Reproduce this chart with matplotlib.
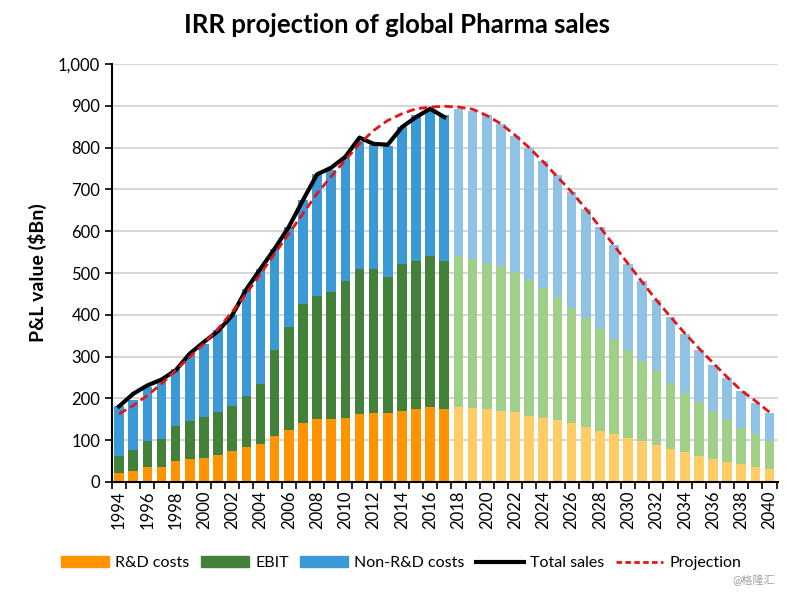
import numpy as np
import matplotlib
matplotlib.use('Agg')
import matplotlib.pyplot as plt
from matplotlib.patches import Patch
from matplotlib.lines import Line2D

plt.rcParams['font.family'] = ['Lato', 'Noto Sans CJK SC', 'DejaVu Sans']

years = list(range(1994, 2041))
last_actual = 2017

# bar totals ($Bn)
bar_total = [181, 195, 227, 243, 271, 303, 331, 363, 399, 461,
             510, 558, 610, 675, 736, 746, 774, 817, 807, 805,
             849, 877, 893, 877, 893, 888, 877, 857, 829, 800,
             768, 734, 694, 652, 610, 566, 522, 480, 436, 395,
             355, 317, 281, 250, 217, 189, 165]
# top of EBIT segment
ebit_top = [61, 76, 97, 104, 133, 146, 155, 167, 182, 206,
            235, 315, 370, 426, 446, 455, 482, 510, 510, 490,
            522, 528, 541, 528, 541, 533, 525, 516, 502, 484,
            463, 443, 417, 392, 367, 342, 315, 289, 265, 237,
            214, 191, 170, 150, 130, 114, 98]
rd_costs = [22, 26, 35, 37, 51, 55, 57, 64, 73, 84,
            90, 111, 124, 140, 150, 150, 153, 162, 165, 165,
            171, 175, 179, 175, 179, 178, 175, 171, 167, 159,
            153, 148, 141, 132, 122, 114, 105, 97, 88, 79,
            72, 63, 56, 49, 42, 37, 32]

sales_years = list(range(1994, 2018))
total_sales = [181, 211, 231, 245, 267, 307, 335, 361, 399, 461,
               510, 558, 610, 674, 736, 752, 778, 824, 809, 807,
               849, 873, 893, 873]

projection = [163, 183, 207, 235, 267, 299, 331, 367, 407, 451,
              498, 546, 594, 642, 690, 731, 770, 809, 841, 865,
              881, 893, 897, 899, 897, 892, 877, 857, 830, 800,
              766, 730, 694, 654, 610, 566, 522, 478, 435, 395,
              356, 320, 285, 251, 219, 194, 167]

rd = np.array(rd_costs)
ebit = np.array(ebit_top) - rd
nonrd = np.array(bar_total) - np.array(ebit_top)

dark = ['#FF9300', '#43803A', '#3B9AD6']
light = ['#FFCC66', '#9FCF88', '#8FC2E4']
actual = np.array(years) <= last_actual

def pick(i):
    return [dark[i] if a else light[i] for a in actual]

fig = plt.figure(figsize=(7.87, 5.93), dpi=100)
ax = fig.add_axes([0.1423, 0.1872, 0.8463, 0.7048])

w = 0.68
ax.bar(years, rd, w, color=pick(0), zorder=2)
ax.bar(years, ebit, w, bottom=rd, color=pick(1), zorder=2)
ax.bar(years, nonrd, w, bottom=rd + ebit, color=pick(2), zorder=2)
ax.plot(sales_years, total_sales, color='black', lw=3, zorder=4)
ax.plot(years, projection, color='#E0161B', lw=2, ls=(0, (3, 1.6)), zorder=5)

ax.set_xlim(1993.5, 2040.6)
ax.set_ylim(0, 1000)
ax.set_yticks(range(0, 1001, 100))
ax.set_yticklabels(['{:,}'.format(v) for v in range(0, 1001, 100)], fontsize=12)
ax.yaxis.grid(True, color='#D0D0D0', lw=1.2, zorder=0)
ax.set_xticks(years[::2])
ax.set_xticklabels([str(y) for y in years[::2]], rotation=90, fontsize=12)
ax.set_xticks(np.arange(1993.5, 2041, 1), minor=True)
ax.tick_params(axis='x', which='major', length=0, pad=6)
ax.tick_params(axis='x', which='minor', length=5, width=1.2, direction='out')
ax.tick_params(axis='y', length=5, width=1.2, direction='out')
for s in ['top', 'right']:
    ax.spines[s].set_visible(False)
ax.spines['left'].set_linewidth(1.5)
ax.spines['bottom'].set_linewidth(1.5)
ax.set_ylabel('P&L value ($Bn)', fontsize=14, fontweight='bold', labelpad=8)

fig.text(0.505, 0.958, 'IRR projection of global Pharma sales', ha='center', va='center',
         fontsize=18.5, fontweight='bold')

handles = [Patch(color=dark[0]), Patch(color=dark[1]), Patch(color=dark[2]),
           Line2D([], [], color='black', lw=3),
           Line2D([], [], color='#E0161B', lw=2, ls=(0, (2, 1.2)))]
labels = ['R&D costs', 'EBIT', 'Non-R&D costs', 'Total sales', 'Projection']
fig.legend(handles, labels, loc='center', bbox_to_anchor=(0.51, 0.05), ncol=5,
           frameon=False, fontsize=11.5, handlelength=3.0, handletextpad=0.4,
           columnspacing=0.7)

fig.text(0.985, 0.022, '@格隆汇', ha='right', va='center', fontsize=8, color='#A0A0A0')

fig.savefig('out.png', dpi=100)
